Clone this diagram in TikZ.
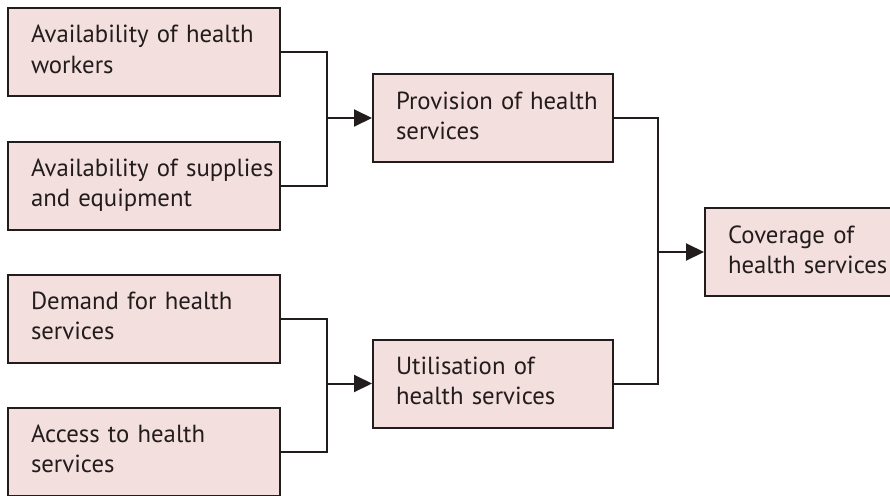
\documentclass[tikz,border=0pt]{standalone}
\usepackage{fontspec}
\setmainfont{PT Sans}
\usepackage{tikz}
\usetikzlibrary{arrows.meta}
\definecolor{boxpink}{RGB}{243,223,221}
\definecolor{inkgrey}{RGB}{34,28,28}
\newcommand{\boxlines}[1]{\begin{tabular}{@{}l@{}}#1\end{tabular}}

\begin{document}
\begin{tikzpicture}[x=1pt, y=-1pt,
		factor/.style={draw=inkgrey, line width=2pt, fill=boxpink, text=inkgrey,
			align=left, text width=#1, inner xsep=23pt, minimum height=88pt,
			font=\fontsize{24.75}{30}\selectfont},
		link/.style={draw=inkgrey, line width=2pt},
		feed/.style={link, -{Triangle[length=18pt, width=17pt]}}]

		% page frame
		\useasboundingbox (0,0) rectangle (890,495);

		% inputs
		\node[factor=226pt] (workers) at (144,52) {\boxlines{Availability of health\\workers}};
		\node[factor=226pt] (supplies) at (144,185.5) {\boxlines{Availability of supplies\\and equipment}};
		\node[factor=226pt] (demand) at (144,318.5) {\boxlines{Demand for health\\services}};
		\node[factor=226pt] (access) at (144,451.5) {\boxlines{Access to health\\services}};

		% intermediate outcomes
		\node[factor=194pt] (provision) at (493,118) {\boxlines{Provision of health\\services}};
		\node[factor=194pt] (utilisation) at (493,383.5) {\boxlines{Utilisation of\\health services}};

		% final outcome (runs off the right edge)
		\node[factor=149pt] (coverage) at (802.5,252) {\boxlines{Coverage of\\health services}};

		% joining points
		\path (provision.west) ++(-45,0) coordinate (jprov);
		\path (utilisation.west) ++(-45,0) coordinate (jutil);
		\path (coverage.west) ++(-46,0) coordinate (jcov);

		% connectors
		\draw[link] (workers.east) -| (jprov);
		\draw[link] (supplies.east) -| (jprov);
		\draw[feed] (jprov) -- (provision.west);

		\draw[link] (demand.east) -| (jutil);
		\draw[link] (access.east) -| (jutil);
		\draw[feed] (jutil) -- (utilisation.west);

		\draw[link] (provision.east) -| (jcov);
		\draw[link] (utilisation.east) -| (jcov);
		\draw[feed] (jcov) -- (coverage.west);

\end{tikzpicture}
\end{document}
